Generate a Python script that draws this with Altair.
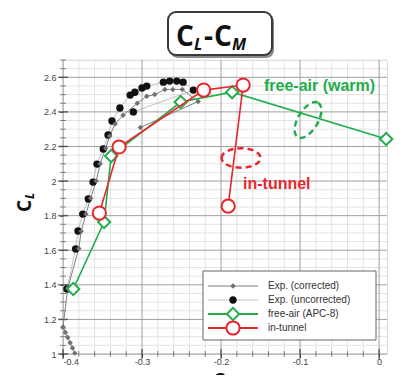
import altair as alt
import pandas as pd

# ---------------- data ----------------
# Exp. (uncorrected)  -- black filled dots
unc_cm = [-0.395, -0.384, -0.381, -0.375, -0.368, -0.362, -0.357, -0.349, -0.343, -0.338,
          -0.328, -0.315, -0.309, -0.300, -0.294, -0.273, -0.265, -0.256, -0.248, -0.235, -0.311]
unc_cl = [1.376, 1.607, 1.711, 1.809, 1.896, 1.994, 2.098, 2.185, 2.266, 2.347,
          2.422, 2.497, 2.514, 2.538, 2.549, 2.572, 2.578, 2.578, 2.572, 2.526, 2.400]

# Exp. (corrected) -- small gray diamonds
corr_cm = [-0.385, -0.388, -0.391, -0.394, -0.397, -0.400, -0.394, -0.380, -0.377, -0.371, -0.365,
           -0.358, -0.353, -0.346, -0.341, -0.334, -0.324, -0.306, -0.294, -0.284,
           -0.271, -0.261, -0.249, -0.229, -0.302]
corr_cl = [1.005, 1.035, 1.065, 1.095, 1.125, 1.156, 1.380, 1.610, 1.710, 1.810, 1.900,
           2.000, 2.100, 2.190, 2.260, 2.330, 2.380, 2.450, 2.490, 2.500,
           2.530, 2.530, 2.530, 2.460, 2.310]

# free-air (APC-8) -- open green diamonds
apc_cm = [-0.387, -0.348, -0.339, -0.251, -0.186, 0.009]
apc_cl = [1.376, 1.763, 2.145, 2.457, 2.514, 2.243]

# in-tunnel -- open red circles
tun_cm = [-0.354, -0.329, -0.222, -0.172, -0.191]
tun_cl = [1.815, 2.197, 2.526, 2.555, 1.855]

x_major = [-0.4, -0.3, -0.2, -0.1, 0.0]
y_major = [1.0, 1.2, 1.4, 1.6, 1.8, 2.0, 2.2, 2.4, 2.6]
x_minor = [round(-0.4 + 0.02 * i, 2) for i in range(21) if i % 5 != 0]
y_minor = [round(1.0 + 0.05 * i, 2) for i in range(35) if i % 4 != 0]

legend_labels = ["Exp. (corrected)", "Exp. (uncorrected)", "free-air (APC-8)", "in-tunnel"]

GREEN = "#22ad4b"
RED = "#e8262d"
W, H = 324, 294

xs = alt.Scale(domain=[-0.4, 0.010], nice=False, zero=False)
ys = alt.Scale(domain=[1.0, 2.70], nice=False, zero=False)

xax = alt.Axis(values=x_major, grid=False, domain=False, ticks=True, tickSize=3, tickColor="#444",
               labelFontSize=9, labelColor="#444", labelFont="Liberation Sans", labelPadding=0,
               title=None,
               labelExpr="datum.value == 0 ? '0' : (datum.value < 0 ? '-' : '') + format(abs(datum.value), '.1f')")
yax = alt.Axis(values=y_major, grid=False, domain=False, ticks=True, tickSize=3, tickColor="#444",
               labelFontSize=9, labelColor="#444", labelFont="Liberation Sans", labelPadding=4,
               title=None, labelExpr="format(datum.value, '~g')")


def frame(cm, cl):
    return pd.DataFrame({"cm": cm, "cl": cl, "i": list(range(len(cm)))})


def X(field="cm"):
    return alt.X(f"{field}:Q", scale=xs, axis=xax)


def Y(field="cl"):
    return alt.Y(f"{field}:Q", scale=ys, axis=yax)


layers = []

# grid
layers.append(alt.Chart(pd.DataFrame({"v": x_minor})).mark_rule(color="#e3e3e3", strokeWidth=1)
              .encode(x=X("v")))
layers.append(alt.Chart(pd.DataFrame({"v": y_minor})).mark_rule(color="#e3e3e3", strokeWidth=1)
              .encode(y=Y("v")))
layers.append(alt.Chart(pd.DataFrame({"v": x_major})).mark_rule(color="#a0a0a0", strokeWidth=1)
              .encode(x=X("v")))
layers.append(alt.Chart(pd.DataFrame({"v": y_major})).mark_rule(color="#a0a0a0", strokeWidth=1)
              .encode(y=Y("v")))
# inward ticks
layers.append(alt.Chart(pd.DataFrame({"v": y_major})).mark_tick(color="#333", thickness=1.5, size=10)
              .encode(y=Y("v"), x=alt.value(0)))
layers.append(alt.Chart(pd.DataFrame({"v": y_minor})).mark_tick(color="#555", thickness=1, size=6)
              .encode(y=Y("v"), x=alt.value(0)))
layers.append(alt.Chart(pd.DataFrame({"v": x_major})).mark_tick(color="#333", thickness=1.5, size=10)
              .encode(x=X("v"), y=alt.value(H)))
layers.append(alt.Chart(pd.DataFrame({"v": x_minor})).mark_tick(color="#555", thickness=1, size=6)
              .encode(x=X("v"), y=alt.value(H)))

# experiments
unc = frame(unc_cm, unc_cl)
corr = frame(corr_cm, corr_cl)
layers.append(alt.Chart(unc).mark_line(color="#b0b0b0", strokeWidth=0.8)
              .encode(x=X(), y=Y(), order="i:Q"))
layers.append(alt.Chart(corr).mark_line(color="#808080", strokeWidth=1)
              .encode(x=X(), y=Y(), order="i:Q"))
layers.append(alt.Chart(unc).mark_point(shape="circle", filled=True, color="#111", size=55, opacity=1)
              .encode(x=X(), y=Y()))
layers.append(alt.Chart(corr).mark_point(shape="diamond", filled=True, color="#707070", size=30, opacity=1)
              .encode(x=X(), y=Y()))

# free-air
apc = frame(apc_cm, apc_cl)
layers.append(alt.Chart(apc).mark_line(color=GREEN, strokeWidth=1.6)
              .encode(x=X(), y=Y(), order="i:Q"))
layers.append(alt.Chart(apc).mark_point(shape="diamond", filled=False, fill="white", color=GREEN,
                                        strokeWidth=2, size=150, opacity=1)
              .encode(x=X(), y=Y()))
# in-tunnel
tun = frame(tun_cm, tun_cl)
layers.append(alt.Chart(tun).mark_line(color=RED, strokeWidth=1.6)
              .encode(x=X(), y=Y(), order="i:Q"))
layers.append(alt.Chart(tun).mark_point(shape="circle", filled=False, fill="white", color=RED,
                                        strokeWidth=2, size=175, opacity=1)
              .encode(x=X(), y=Y()))

# annotations: dashed ellipses and labels
ELL = "M-1,0A1,0.5,0,1,1,1,0A1,0.5,0,1,1,-1,0Z"
one = pd.DataFrame({"k": [0]})
layers.append(alt.Chart(one).mark_point(shape=ELL, filled=False, color=GREEN, strokeWidth=2.5,
                                        strokeDash=[6, 4], size=1600, angle=121, opacity=1)
              .encode(x=alt.value(245), y=alt.value(60)))
layers.append(alt.Chart(one).mark_point(shape=ELL, filled=False, color=RED, strokeWidth=2.5,
                                        strokeDash=[6, 4], size=1520, opacity=1)
              .encode(x=alt.value(178), y=alt.value(98)))
layers.append(alt.Chart(pd.DataFrame({"t": ["free-air (warm)"]}))
              .mark_text(align="left", baseline="middle", fontSize=16, fontWeight="bold",
                         font="Liberation Sans", color=GREEN)
              .encode(x=alt.value(201), y=alt.value(26), text="t:N"))
layers.append(alt.Chart(pd.DataFrame({"t": ["in-tunnel"]}))
              .mark_text(align="left", baseline="middle", fontSize=16, fontWeight="bold",
                         font="Liberation Sans", color=RED)
              .encode(x=alt.value(180), y=alt.value(124), text="t:N"))

# legend (drawn by hand)
layers.append(alt.Chart(one).mark_rect(fill="white", stroke="#666", strokeWidth=1)
              .encode(x=alt.value(140), x2=alt.value(313), y=alt.value(211), y2=alt.value(280)))
rows = [226, 240, 254, 268]
styles = [
    dict(line=dict(color="#808080", strokeWidth=1),
         pt=dict(shape="diamond", filled=True, color="#707070", size=30)),
    dict(line=dict(color="#b0b0b0", strokeWidth=0.8),
         pt=dict(shape="circle", filled=True, color="#111", size=55)),
    dict(line=dict(color=GREEN, strokeWidth=2),
         pt=dict(shape="diamond", filled=False, fill="white", color=GREEN, strokeWidth=2, size=150)),
    dict(line=dict(color=RED, strokeWidth=2),
         pt=dict(shape="circle", filled=False, fill="white", color=RED, strokeWidth=2, size=175)),
]
for lab, yy, st in zip(legend_labels, rows, styles):
    d = pd.DataFrame({"t": [lab]})
    layers.append(alt.Chart(d).mark_rule(**st["line"])
                  .encode(x=alt.value(145), x2=alt.value(195), y=alt.value(yy)))
    layers.append(alt.Chart(d).mark_point(opacity=1, **st["pt"])
                  .encode(x=alt.value(170), y=alt.value(yy)))
    layers.append(alt.Chart(d).mark_text(align="left", baseline="middle", fontSize=10,
                                         font="Liberation Sans", color="#333")
                  .encode(x=alt.value(205), y=alt.value(yy), text="t:N"))

# boxed title C_L - C_M
layers.append(alt.Chart(one).mark_rect(fill="#8a8a8a", cornerRadius=8)
              .encode(x=alt.value(107), x2=alt.value(211), y=alt.value(-46), y2=alt.value(-2)))
layers.append(alt.Chart(one).mark_rect(fill="white", stroke="#3a3a3a", strokeWidth=2, cornerRadius=8)
              .encode(x=alt.value(105), x2=alt.value(209), y=alt.value(-48), y2=alt.value(-5)))


def txt(s, x, y, size, italic=False, angle=0, align="left"):
    return (alt.Chart(pd.DataFrame({"t": [s]}))
            .mark_text(align=align, baseline="alphabetic", fontSize=size, fontWeight="bold",
                       fontStyle="italic" if italic else "normal", font="Open Sans",
                       color="#111", angle=angle)
            .encode(x=alt.value(x), y=alt.value(y), text="t:N"))


layers += [txt("C", 113, -14, 28), txt("L", 131, -10, 16, italic=True),
           txt("-", 141, -14, 28), txt("C", 151, -14, 28), txt("M", 169, -10, 16, italic=True)]

# axis titles
layers += [txt("C", -32, 146, 19, angle=270, align="center"),
           txt("L", -29, 136, 12, italic=True, angle=270, align="center"),
           txt("C", 156, 327, 19, align="center"),
           txt("M", 167, 330, 12, italic=True, align="center")]

chart = (alt.layer(*layers)
         .properties(width=W, height=H, autosize="none",
                     padding={"left": 55, "top": 52, "right": 15, "bottom": 21})
         .configure_view(stroke="#555", strokeWidth=2.5)
         .configure(background="white"))

chart.save("out.html", embed_options={"renderer": "svg", "actions": False})
